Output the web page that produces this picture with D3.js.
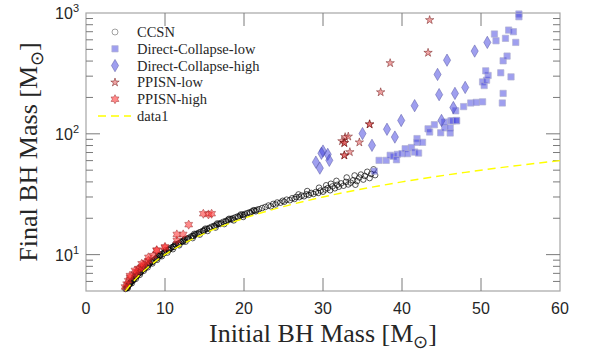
<!DOCTYPE html>
<html>
<head>
<meta charset="utf-8">
<script src="https://cdn.jsdelivr.net/npm/d3@7"></script>
<style>
  body { margin: 0; background: #fff; }
  svg { display: block; }
</style>
</head>
<body>
<div id="chart"></div>
<script>
// values
const ccsnInit = [
  5.0,5.1,5.2,5.3,5.4,5.5,5.6,5.7,5.8,5.9,6.0,6.1,6.2,6.3,6.4,6.5,6.6,6.8,6.9,7.0,7.2,7.3,7.5,7.6,7.8,8.0,8.1,8.3,8.5,8.6,
  8.8,9.0,9.2,9.3,9.5,9.7,9.9,10.0,10.2,10.4,10.6,10.8,11.0,11.2,11.4,11.6,11.8,12.0,12.2,12.4,12.6,12.8,13.0,13.3,13.5,13.8,
  14.0,14.3,14.5,14.8,15.0,15.3,15.6,15.9,16.2,16.5,16.8,17.1,17.4,17.7,18.0,18.3,18.6,18.9,19.2,19.5,19.8,20.1,20.4,20.7,
  21.0,21.3,21.6,21.9,
  5.2,5.6,6.0,6.4,6.9,7.4,7.9,8.4,8.9,9.4,9.9,10.5,11.1,11.7,12.3,12.9,13.6,14.2,14.9,15.6,16.3,17.0,17.8,18.5,19.3,20.0,20.8,21.5,
  5.4,6.2,7.1,8.2,9.1,10.1,11.3,12.5,13.7,15.1,16.6,18.1,19.6,21.2,
  5.3,5.8,6.3,6.8,7.3,7.8,8.4,9.0,9.6,10.3,11.0,11.8,12.6,13.5,14.4,15.4,16.4,17.5,18.7,19.9,
  22.3,22.7,23.1,23.4,23.7,24.0,24.2,24.6,24.9,25.1,25.4,25.8,26.1,26.4,26.6,27.0,27.3,27.6,27.9,28.2,28.5,28.8,29.1,29.4,
  29.7,30.0,30.3,30.6,30.9,31.2,31.5,31.8,32.0,32.3,32.6,32.9,33.2,33.5,33.8,34.1,34.3,34.6,34.8,35.1,35.3,35.6,35.9,36.1,
  36.4,36.6,30.4,31.0,29.5,28.0,26.9,33.0,34.0,31.7
];
const ccsnFinal = [
  5.2,5.3,5.4,5.5,5.6,5.7,5.85,5.95,6.05,6.15,6.25,6.35,6.5,6.6,6.7,6.8,6.9,7.1,7.2,7.3,7.55,7.65,7.85,7.95,8.15,8.4,8.5,8.7,8.9,9.0,
  9.25,9.45,9.65,9.8,10.0,10.2,10.4,10.5,10.7,10.95,11.15,11.4,11.6,11.8,12.0,12.25,12.45,12.7,12.9,13.1,13.3,13.5,13.75,14.1,14.3,14.6,
  14.9,15.2,15.4,15.75,16.0,16.3,16.65,17.0,17.3,17.65,18.0,18.3,18.7,19.0,19.4,19.7,20.0,20.35,20.7,21.0,21.4,21.7,22.05,22.4,
  22.75,23.1,23.45,23.8,
  5.3,5.75,6.15,6.6,7.1,7.65,8.2,8.7,9.25,9.8,10.3,10.95,11.6,12.2,12.85,13.5,14.25,14.9,15.65,16.4,17.15,17.95,18.8,19.55,20.4,21.2,22.1,22.85,
  5.75,6.65,7.6,8.8,9.8,10.9,12.2,13.5,14.85,16.4,18.1,19.8,21.5,23.3,
  5.3,5.8,6.3,6.8,7.35,7.85,8.45,9.05,9.7,10.4,11.1,11.95,12.8,13.7,14.65,15.7,16.75,17.9,19.2,20.5,
  24.3,24.8,25.5,25.1,26.3,26.0,27.0,26.9,27.9,27.4,28.5,28.2,29.3,28.9,30.0,29.9,30.8,30.4,31.6,31.2,32.4,31.8,33.0,32.4,
  33.9,33.2,34.6,35.5,34.1,36.7,35.4,37.8,36.5,38.9,37.2,40.0,38.1,39.4,41.2,37.9,40.6,43.5,46.0,41.8,44.8,48.5,43.0,46.5,
  50.8,45.5,37.5,38.6,35.8,33.6,31.5,43.5,45.2,40.8
];

const dcLowInit = [
  36.5,37.1,38.0,38.5,38.9,39.4,39.3,40.0,40.4,40.7,41.2,41.6,42.1,41.9,41.9,42.6,43.3,43.5,44.1,44.9,45.4,45.4,46.1,46.1,
  46.2,46.4,46.9,46.9,46.8,47.8,48.7,49.4,50.2,52.7,52.8,50.2,50.4,50.7,50.9,50.6,52.5,53.8,52.8,53.3,51.7,51.9,53.1,53.5,
  54.1,54.4,54.8,54.8
];
const dcLowFinal = [
  49.1,60.3,60.3,66.4,65.1,67.6,61.0,68.5,75.3,68.5,77.0,70.6,69.3,91.3,85.0,85.0,110,103.5,119,102,112,125,112,101.6,
  128,128,128,129,155,168,180,182,184,180,216,269,251,278,304,332,320,296,402,440,670,589,617,722,
  700,571,981,931
];

const dcHighInit = [30.0,29.8,30.6,30.8,29.1,29.6,35.0,36.2,38.1,39.1,39.9,41.6,45.0,46.5,44.7,46.7,48.0,44.5,45.7,49.2,50.8];
const dcHighFinal = [72,69,67.6,60.3,58.3,52,100.4,80.3,109,94,129,171,129,165,211,216,242,310,407,484,571];

const ppisnLowInit = [32.4,32.8,33.2,32.7,32.7,34.6,35.9,35.9,33.4,32.7,32.7,37.3,38.5,43.3,43.5];
const ppisnLowFinal = [87,94,95,84,84,85,120,120,70.6,66.4,66.4,221,385,469,875];

const ppisnHighInit = [
  4.94,5.15,5.35,5.57,6.2,6.4,6.62,6.8,7.05,7.3,7.6,7.89,7.9,8.52,8.95,8.95,10.0,10.0,11.5,11.5,12.3,13.0,14.85,15.5,15.9,
  6.2,7.05,5.57
];
const ppisnHighFinal = [
  5.4,5.7,6.08,6.49,6.92,7.2,7.6,7.7,7.85,8.2,8.6,8.91,9.5,9.81,10.8,10.9,11.4,11.6,13.1,14.7,14.7,17.7,21.8,21.5,21.8,
  7.4,8.4,6.7
];

// data1: final = initial
const lineInit = [5, 5.5, 6, 7, 8, 9, 10, 11, 12, 14, 16, 18, 20, 22, 25, 28, 30, 33, 36, 40, 44, 48, 52, 56, 60];
const lineFinal = [5, 5.5, 6, 7, 8, 9, 10, 11, 12, 14, 16, 18, 20, 22, 25, 28, 30, 33, 36, 40, 44, 48, 52, 56, 60];

const xTicks = [0, 10, 20, 30, 40, 50, 60];
const yTicks = [10, 100, 1000];
const yTickExp = ["1", "2", "3"];
const legendLabels = ["CCSN", "Direct-Collapse-low", "Direct-Collapse-high", "PPISN-low", "PPISN-high", "data1"];

const width = 590, height = 356;
const mLeft = 86, mRight = 560, mTop = 13, mBottom = 291;

const svg = d3.select("#chart").append("svg")
  .attr("width", width)
  .attr("height", height)
  .style("background", "#fff");

const x = d3.scaleLinear().domain([0, 60]).range([mLeft, mRight]);
const y = d3.scaleLog().domain([5, 1000]).range([mBottom, mTop]);

const zip = (a, b) => a.map((v, i) => [v, b[i]]);

// hexagram marker
const symbolHexagram = {
  draw(ctx, size) {
    const r = Math.sqrt(size) * 0.78;
    const ri = r / Math.sqrt(3);
    for (let i = 0; i < 12; i++) {
      const a = i * Math.PI / 6 - Math.PI / 2;
      const rr = i % 2 ? ri : r;
      if (i === 0) ctx.moveTo(rr * Math.cos(a), rr * Math.sin(a));
      else ctx.lineTo(rr * Math.cos(a), rr * Math.sin(a));
    }
    ctx.closePath();
  }
};

const styles = {
  dcLow: { type: d3.symbolSquare, size: 40, fill: "#4040e0", fo: 0.5, stroke: "#b0b0d0", so: 0.8 },
  dcHigh: { type: d3.symbolDiamond, size: 44, fill: "#4040e0", fo: 0.5, stroke: "#5050a0", so: 0.6 },
  pLow: { type: d3.symbolStar, size: 22, fill: "#e04848", fo: 0.5, stroke: "#600000", so: 0.55 },
  pHigh: { type: symbolHexagram, size: 34, fill: "#ff2a2a", fo: 0.55, stroke: "#902020", so: 0.55 }
};

// frame
const tickColor = "#7a7a7a";
svg.append("rect")
  .attr("x", mLeft).attr("y", mTop)
  .attr("width", mRight - mLeft).attr("height", mBottom - mTop)
  .attr("fill", "none").attr("stroke", "#a6a6a6").attr("stroke-width", 1.2);

// x ticks top & bottom
xTicks.slice(1, -1).forEach(t => {
  svg.append("line").attr("x1", x(t)).attr("x2", x(t)).attr("y1", mBottom).attr("y2", mBottom - 13)
    .attr("stroke", tickColor);
  svg.append("line").attr("x1", x(t)).attr("x2", x(t)).attr("y1", mTop).attr("y2", mTop + 13)
    .attr("stroke", tickColor);
});

// y ticks, major and minor, both sides
const yMinor = y.ticks().filter(v => v > 5 && v < 1000);
yMinor.forEach(v => {
  const major = yTicks.includes(v);
  const len = major ? 14 : 7;
  svg.append("line").attr("x1", mLeft).attr("x2", mLeft + len).attr("y1", y(v)).attr("y2", y(v))
    .attr("stroke", tickColor);
  svg.append("line").attr("x1", mRight).attr("x2", mRight - len).attr("y1", y(v)).attr("y2", y(v))
    .attr("stroke", tickColor);
});

// tick labels
const tickFont = "'Liberation Sans', Arial, sans-serif";
svg.selectAll(".xl").data(xTicks).enter().append("text")
  .attr("x", d => x(d)).attr("y", 314)
  .attr("text-anchor", "middle")
  .attr("font-family", tickFont).attr("font-size", 16).attr("fill", "#262626")
  .text(d => d);

yTicks.forEach((v, i) => {
  const t = svg.append("text")
    .attr("x", 79).attr("y", y(v) + 6)
    .attr("text-anchor", "end")
    .attr("font-family", tickFont).attr("font-size", 16).attr("fill", "#262626");
  t.append("tspan").text("10");
  t.append("tspan").attr("dy", -7).attr("font-size", 11).text(yTickExp[i]);
});

// axis titles
const titleFont = "'Liberation Serif', 'Times New Roman', serif";
const xt = svg.append("text")
  .attr("x", (mLeft + mRight) / 2).attr("y", 342)
  .attr("text-anchor", "middle")
  .attr("font-family", titleFont).attr("font-size", 26).attr("fill", "#262626");
xt.append("tspan").text("Initial BH Mass [M");
xt.append("tspan").attr("dy", 6).attr("font-size", 18).text("\u2299");
xt.append("tspan").attr("dy", -6).text("]");

const yt = svg.append("text")
  .attr("transform", `translate(37,${(mTop + mBottom) / 2}) rotate(-90)`)
  .attr("text-anchor", "middle")
  .attr("font-family", titleFont).attr("font-size", 26).attr("fill", "#262626");
yt.append("tspan").text("Final BH Mass [M");
yt.append("tspan").attr("dy", 6).attr("font-size", 18).text("\u2299");
yt.append("tspan").attr("dy", -6).text("]");

// data
const plot = svg.append("g");

plot.selectAll(".ccsn").data(zip(ccsnInit, ccsnFinal)).enter().append("circle")
  .attr("cx", d => x(d[0])).attr("cy", d => y(d[1]))
  .attr("r", 2.8)
  .attr("fill", "none")
  .attr("stroke", "#000").attr("stroke-opacity", 0.65).attr("stroke-width", 1);

function drawSymbols(data, st) {
  plot.selectAll(null).data(data).enter().append("path")
    .attr("d", d3.symbol().type(st.type).size(st.size))
    .attr("transform", d => `translate(${x(d[0])},${y(d[1])})`)
    .attr("fill", st.fill).attr("fill-opacity", st.fo)
    .attr("stroke", st.stroke).attr("stroke-opacity", st.so).attr("stroke-width", 0.8);
}
drawSymbols(zip(dcLowInit, dcLowFinal), styles.dcLow);
drawSymbols(zip(dcHighInit, dcHighFinal), styles.dcHigh);
drawSymbols(zip(ppisnLowInit, ppisnLowFinal), styles.pLow);
drawSymbols(zip(ppisnHighInit, ppisnHighFinal), styles.pHigh);

plot.append("path")
  .datum(zip(lineInit, lineFinal))
  .attr("d", d3.line().curve(d3.curveMonotoneX).x(d => x(d[0])).y(d => y(d[1])))
  .attr("fill", "none")
  .attr("stroke", "#ffff00").attr("stroke-width", 1.4)
  .attr("stroke-dasharray", "8,5");

// legend
const lg = svg.append("g");
const rowY = i => 32 + i * 16.8;
const legendFont = "'Liberation Serif', 'Times New Roman', serif";
legendLabels.forEach((lab, i) => {
  lg.append("text")
    .attr("x", 137).attr("y", rowY(i) + 5)
    .attr("font-family", legendFont).attr("font-size", 14.5).attr("fill", "#262626")
    .text(lab);
});
lg.append("circle").attr("cx", 115).attr("cy", rowY(0)).attr("r", 3)
  .attr("fill", "none").attr("stroke", "#000").attr("stroke-opacity", 0.45).attr("stroke-width", 0.8);
const legendSyms = [styles.dcLow, styles.dcHigh, styles.pLow, styles.pHigh];
legendSyms.forEach((st, i) => {
  lg.append("path")
    .attr("d", d3.symbol().type(st.type).size(st.size)())
    .attr("transform", `translate(115,${rowY(i + 1)})`)
    .attr("fill", st.fill).attr("fill-opacity", st.fo)
    .attr("stroke", st.stroke).attr("stroke-opacity", st.so).attr("stroke-width", 0.8);
});
lg.append("line").attr("x1", 98).attr("x2", 131).attr("y1", rowY(5)).attr("y2", rowY(5))
  .attr("stroke", "#ffff00").attr("stroke-width", 1.4).attr("stroke-dasharray", "8,5");
</script>
</body>
</html>
